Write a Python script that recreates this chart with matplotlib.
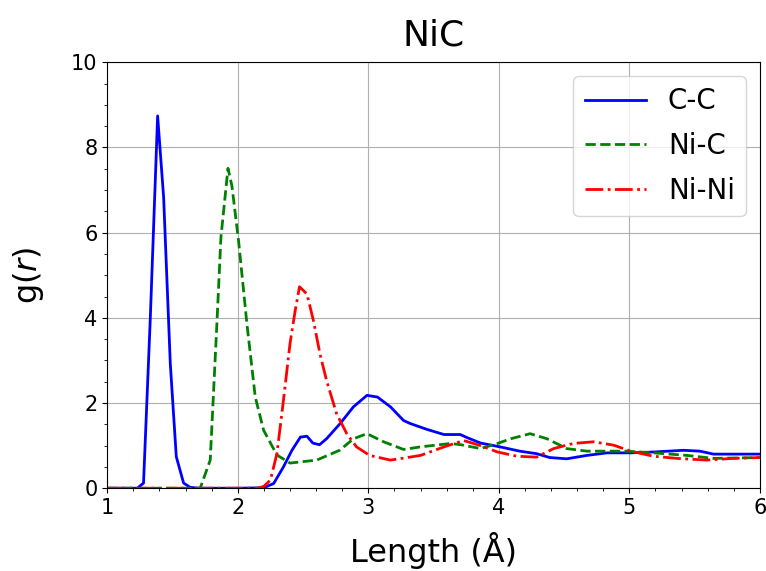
import matplotlib
matplotlib.use("Agg")
import matplotlib.pyplot as plt
from matplotlib.ticker import MultipleLocator

# C-C partial g(r)
cc_x = [1.0, 1.23, 1.278, 1.33, 1.386, 1.432, 1.483, 1.529, 1.585, 1.636, 1.7, 2.0, 2.198, 2.275,
        2.35, 2.415, 2.48, 2.53, 2.575, 2.626, 2.68, 2.785, 2.886, 2.99, 3.07, 3.17, 3.27, 3.32,
        3.45, 3.58, 3.705, 3.755, 3.86, 4.01, 4.16, 4.29, 4.39, 4.52, 4.675, 4.83, 5.01, 5.185,
        5.415, 5.54, 5.645, 6.0]
cc_y = [0.0, 0.0, 0.12, 4.0, 8.74, 6.83, 2.93, 0.74, 0.12, 0.02, 0.0, 0.0, 0.01, 0.11,
        0.5, 0.89, 1.2, 1.22, 1.06, 1.02, 1.16, 1.52, 1.91, 2.18, 2.14, 1.91, 1.59, 1.52,
        1.38, 1.26, 1.26, 1.19, 1.06, 0.97, 0.87, 0.81, 0.72, 0.69, 0.77, 0.83, 0.83, 0.85,
        0.89, 0.87, 0.80, 0.80]

# Ni-C partial g(r)
nic_x = [1.0, 1.712, 1.789, 1.84, 1.871, 1.925, 1.955, 2.006, 2.07, 2.134, 2.198, 2.30, 2.40,
         2.605, 2.78, 2.886, 2.99, 3.117, 3.27, 3.40, 3.63, 3.71, 3.86, 3.99, 4.09, 4.24, 4.37,
         4.52, 4.675, 4.98, 5.185, 5.44, 5.645, 6.0]
nic_y = [0.0, 0.0, 0.66, 3.86, 5.89, 7.51, 7.1, 5.81, 3.86, 2.14, 1.36, 0.78, 0.59,
         0.66, 0.89, 1.16, 1.28, 1.09, 0.91, 0.97, 1.05, 1.02, 0.93, 1.05, 1.16, 1.28, 1.16,
         0.93, 0.87, 0.87, 0.83, 0.77, 0.70, 0.72]

# Ni-Ni partial g(r)
nini_x = [1.0, 2.15, 2.198, 2.25, 2.30, 2.35, 2.40, 2.44, 2.473, 2.53, 2.58, 2.63, 2.68, 2.757,
          2.835, 2.91, 3.01, 3.17, 3.32, 3.40, 3.58, 3.73, 3.86, 3.99, 4.14, 4.29, 4.42, 4.57,
          4.725, 4.88, 5.01, 5.185, 5.365, 5.59, 5.795, 6.0]
nini_y = [0.0, 0.0, 0.04, 0.19, 0.81, 2.06, 3.39, 4.17, 4.73, 4.56, 3.93, 3.15, 2.53, 1.75,
          1.28, 0.97, 0.77, 0.66, 0.73, 0.77, 0.97, 1.12, 1.0, 0.85, 0.75, 0.73, 0.93, 1.05,
          1.09, 1.01, 0.87, 0.75, 0.70, 0.66, 0.70, 0.72]

fig = plt.figure(figsize=(7.66, 5.71), dpi=100)
ax = fig.add_axes([0.14, 0.145, 0.852, 0.746])

ax.plot(cc_x, cc_y, "b-", lw=2, label="C-C")
ax.plot(nic_x, nic_y, "g--", lw=2, label="Ni-C")
ax.plot(nini_x, nini_y, "r-.", lw=2, label="Ni-Ni")

ax.set_xlim(1, 6)
ax.set_ylim(0, 10)
ax.xaxis.set_minor_locator(MultipleLocator(0.2))
ax.yaxis.set_minor_locator(MultipleLocator(0.5))
ax.tick_params(labelsize=15)
ax.grid(True, which="major")

ax.set_title("NiC", fontsize=26, pad=12)
ax.set_xlabel("Length (Å)", fontsize=23, labelpad=10)
ax.set_ylabel("g($r$)", fontsize=23, labelpad=18)
ax.legend(loc="upper right", fontsize=20, handlelength=2.2, labelspacing=0.6)

fig.savefig("out.png", dpi=100)
